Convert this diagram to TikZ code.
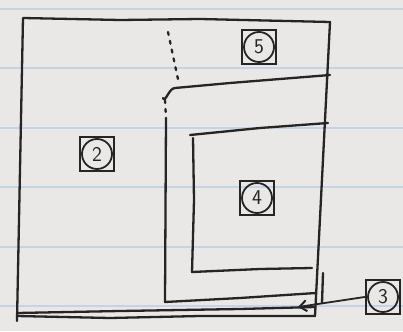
\documentclass[tikz,border=0pt]{standalone}
\usetikzlibrary{arrows.meta}
\definecolor{paper}{RGB}{234,232,230}
\definecolor{rule}{RGB}{196,212,228}
\definecolor{pen}{RGB}{38,36,36}

\begin{document}
\begin{tikzpicture}[
    x=1pt, y=-1pt,
    ink/.style={draw=pen, line width=2.3pt, line cap=round, line join=round},
    dots/.style={ink, dash pattern=on 3pt off 6pt},
    ruling/.style={draw=rule, line width=1.2pt},
    tag/.style={draw=pen, line width=2.8pt, minimum size=34pt, inner sep=0pt, text=pen,
        font=\sffamily\fontsize{21}{21}\selectfont,
        path picture={\draw[pen, line width=1.8pt] (path picture bounding box.center) circle (15pt);}},
    link/.style={ink, line width=1.8pt, -{Straight Barb[length=7pt, width=11pt, line width=2pt]}}
]
% paper
\fill[paper] (0,0) rectangle (403,331);
\useasboundingbox (0,0) rectangle (403,331);
\draw[ruling] (0,9) -- (403,9);
\draw[ruling] (0,68) -- (403,68);
\draw[ruling] (0,128) -- (403,128);
\draw[ruling] (0,187) -- (403,187);
\draw[ruling] (0,247) -- (403,247);
\draw[ruling] (0,306) -- (403,306);

% outer frame
\draw[ink] (17,321) -- (23,18) -- (120,20) -- (200,19) -- (330,22) -- (315,316);
\draw[ink] (17,313) -- (120,311) -- (240,309) -- (315,307);
\draw[ink] (17,316) -- (110,318) -- (200,316) -- (315,316);
\draw[ink] (323,273) -- (322,303);

% divider above region 3
\draw[dots] (168,32) -- (179,84);

% region 3
\draw[ink] (163,98) to[out=-70, in=180] (175,88) -- (230,83) -- (330,75);
\draw[dots] (165,100) -- (166,118);
\draw[ink] (166,118) -- (165,302) -- (240,298) -- (316,293);

% region 4
\draw[ink] (190,135) -- (260,128) -- (328,123);
\draw[ink] (193,138) -- (194,200) -- (192,272) -- (260,269) -- (312,268);

% labels
\node[tag] (t5) at (259,47) {5};
\node[tag] (t2) at (97,154) {2};
\node[tag] (t4) at (257,198) {4};
\node[tag] (t3) at (383,297) {3};
\coordinate (c3) at (298,307);
\draw[link] (t3.west) -- (c3);
\end{tikzpicture}
\end{document}
